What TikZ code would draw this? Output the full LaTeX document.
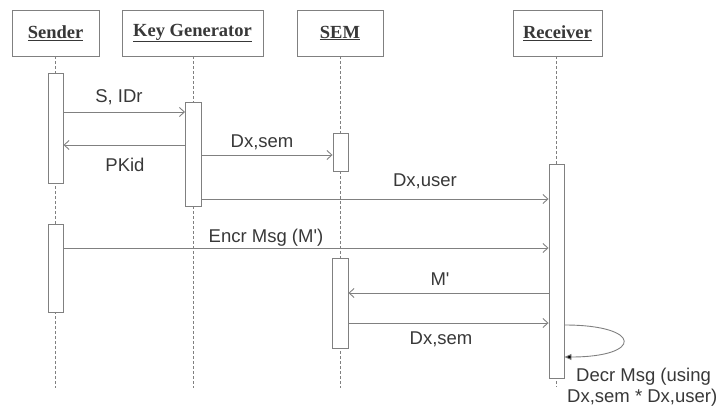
\documentclass[tikz,border=0pt]{standalone}
\usepackage{fontspec}
\setmainfont{Liberation Serif}
\newfontfamily\lsans{Liberation Sans}
\usetikzlibrary{arrows.meta}
\definecolor{ln}{gray}{0.50}
\definecolor{tx}{gray}{0.22}
\begin{document}
\begin{tikzpicture}[x=1pt,y=-1pt,
  head/.style={draw=ln,line width=0.9pt,fill=white,minimum height=46pt,inner sep=0pt,text=tx,
    font=\fontsize{18.5}{20}\selectfont\bfseries},
  bar/.style={draw=ln,line width=0.9pt,fill=white,minimum width=15pt,inner sep=0pt},
  life/.style={draw=ln,line width=0.9pt,dash pattern=on 3pt off 2pt},
  msg/.style={draw=ln,line width=0.9pt,-{Straight Barb[length=5pt,width=9pt]}},
  lbl/.style={text=tx,font=\lsans\fontsize{18.5}{21}\selectfont,inner sep=0pt}]
\useasboundingbox (0,0) rectangle (721,412);
% headers
\node[head,minimum width=87pt] (hs) at (55.5,33) {\underline{Sender}};
\node[head,minimum width=141pt] (hk) at (192.5,33) {\underline{Key Generator}};
\node[head,minimum width=86pt] (hm) at (340,33) {\underline{SEM}};
\node[head,minimum width=89pt] (hr) at (557.5,33) {\underline{Receiver}};
% lifeline ends
\coordinate (es) at (55.5,388);
\coordinate (ek) at (193.5,388);
\coordinate (em) at (340.5,388);
\coordinate (er) at (556.5,387);
% lifelines
\draw[life] (hs.south) -- (es);
\draw[life] (hk.south -| ek) -- (ek);
\draw[life] (hm.south -| em) -- (em);
\draw[life] (hr.south -| er) -- (er);
% activation bars
\node[bar,minimum height=110pt] (s1) at (55.5,128) {};
\node[bar,minimum height=88pt] (s2) at (55.5,268) {};
\node[bar,minimum height=104pt,minimum width=16pt] (k1) at (193.5,154) {};
\node[bar,minimum height=38pt] (m1) at (340.5,152) {};
\node[bar,minimum height=90pt,minimum width=16pt] (m2) at (340,303) {};
\node[bar,minimum height=214pt] (r1) at (556.5,271) {};
% messages
\draw[msg] (s1.east |- 0,112) -- (k1.west |- 0,112);
\node[lbl] (l1) at (119,97) {S, IDr};
\draw[msg] (k1.west |- 0,145) -- (s1.east |- 0,145);
\node[lbl] (l2) at (125,165) {PKid};
\draw[msg] (k1.east |- 0,155) -- (m1.west |- 0,155);
\node[lbl] (l3) at (262,142) {Dx,sem};
\draw[msg] (k1.east |- 0,199) -- (r1.west |- 0,199);
\node[lbl] (l4) at (425,181) {Dx,user};
\draw[msg] (s2.east |- 0,248) -- (r1.west |- 0,248);
\node[lbl] (l5) at (266,238) {Encr Msg (M')};
\draw[msg] (r1.west |- 0,293) -- (m2.east |- 0,293);
\node[lbl] (l6) at (440,279) {M'};
\draw[msg] (m2.east |- 0,323) -- (r1.west |- 0,323);
\node[lbl] (l7) at (441,339) {Dx,sem};
% self message
\draw[draw=ln,line width=0.9pt,-{Triangle[length=7pt,width=6pt,fill=black]}]
  (r1.east |- 0,325) .. controls (643,325) and (643,357) .. (r1.east |- 0,357);
\node[lbl,align=left,anchor=west] (l8) at (567,387) {\hspace*{9pt}Decr Msg (using\\Dx,sem * Dx,user)};
\end{tikzpicture}
\end{document}
